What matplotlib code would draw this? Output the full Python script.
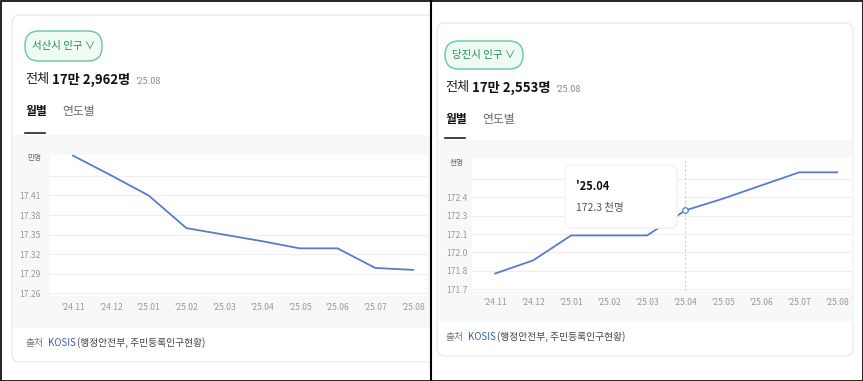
import numpy as np
import matplotlib
matplotlib.use('Agg')
import matplotlib.pyplot as plt
from matplotlib.patches import FancyBboxPatch, Rectangle

plt.rcParams['font.family'] = ['Noto Sans CJK KR', 'DejaVu Sans']

# --- datos ---
months = ["'24.11", "'24.12", "'25.01", "'25.02", "'25.03",
          "'25.04", "'25.05", "'25.06", "'25.07", "'25.08"]
seosan = [17.471, 17.441, 17.410, 17.360, 17.350, 17.340, 17.329, 17.329, 17.299, 17.296]
dangjin = [171.82, 171.92, 172.11, 172.11, 172.11, 172.30, 172.39, 172.49, 172.59, 172.59]

seosan_ticks = [17.26, 17.29, 17.32, 17.35, 17.38, 17.41, 17.44]
seosan_labels = ["17.26", "17.29", "17.32", "17.35", "17.38", "17.41", ""]
dangjin_ticks = [171.70, 171.84, 171.98, 172.12, 172.26, 172.40, 172.54]
dangjin_labels = ["171.7", "171.8", "172.0", "172.1", "172.3", "172.4", ""]

titles = ["서산시 인구", "당진시 인구"]
totals = ["17만 2,962명", "17만 2,553명"]
units = ["만명", "천명"]
tip_month = "'25.04"
tip_value = "172.3 천명"
tip_idx = 5

W, H = 863, 381
LINE = '#5b7bc9'
GREEN = '#1f8f50'

fig = plt.figure(figsize=(W / 100, H / 100), dpi=100)
fig.patch.set_facecolor('white')

# capa de fondo en pixeles
bg = fig.add_axes([0, 0, 1, 1], zorder=0)
bg.set_xlim(0, W)
bg.set_ylim(H, 0)
bg.axis('off')


def rect_px(x0, x1, y0, y1):
    return [x0 / W, 1 - y1 / H, (x1 - x0) / W, (y1 - y0) / H]


# tarjetas
cards = [dict(x0=12, x1=445, top=15, bot=362, band0=135, band1=328, pill=(25, 102, 31, 61),
              y_total=80, y_tab=112, y_line=133, x_left=25, clip=(0, 430)),
         dict(x0=437, x1=853, top=23, bot=356, band0=140, band1=322, pill=(445, 523, 41, 69),
              y_total=88, y_tab=119, y_line=138, x_left=445, clip=(431, W))]

for i, c in enumerate(cards):
    clip = Rectangle((c['clip'][0], 0), c['clip'][1] - c['clip'][0], H, transform=bg.transData)
    card = FancyBboxPatch((c['x0'], c['top']), c['x1'] - c['x0'], c['bot'] - c['top'],
                          boxstyle='round,pad=0,rounding_size=8', fc='white',
                          ec='#e6e6e6', lw=0.8)
    bg.add_patch(card)
    card.set_clip_path(clip)
    band = Rectangle((c['x0'] + 0.5, c['band0']), c['x1'] - c['x0'] - 1,
                     c['band1'] - c['band0'], fc='#f7f8fa', ec='none')
    bg.add_patch(band)
    band.set_clip_path(clip)
    px0, px1, py0, py1 = c['pill']
    bg.add_patch(FancyBboxPatch((px0, py0), px1 - px0, py1 - py0,
                                boxstyle='round,pad=0,rounding_size=14', fc='#f0faf4',
                                ec='#66c795', lw=1.0))
    bg.text((px0 + px1) / 2, (py0 + py1) / 2, titles[i] + " ∨", color=GREEN,
            fontsize=7.5, ha='center', va='center')
    xl = c['x_left']
    bg.text(xl, c['y_total'], "전체", fontsize=9.5, color='#222', va='center')
    bg.text(xl + 27, c['y_total'], totals[i], fontsize=9.5, fontweight='bold',
            color='#111', va='center')
    bg.text(xl + 110, c['y_total'] + 1, "'25.08", fontsize=6.5, color='#888', va='center')
    bg.text(xl, c['y_tab'], "월별", fontsize=8.5, fontweight='bold', color='#111', va='center')
    bg.text(xl + 37, c['y_tab'], "연도별", fontsize=8.5, color='#666', va='center')
    bg.plot([xl, xl + 20], [c['y_line'], c['y_line']], color='#222', lw=1.2)
    bg.text(xl, c['band1'] + 15, "출처", fontsize=7, color='#777', va='center')
    bg.text(xl + 23, c['band1'] + 15, "KOSIS", fontsize=7, color='#3b5fa8', va='center')
    bg.text(xl + 52, c['band1'] + 15, "(행정안전부, 주민등록인구현황)", fontsize=7,
            color='#444', va='center')

# marco negro
bg.add_patch(Rectangle((0.5, 0.5), W - 1, H - 1, fc='none', ec='black', lw=1.2))
bg.plot([430.5, 430.5], [0, H], color='black', lw=1.5)

# --- graficas ---
x = np.arange(len(months))


def style(ax, ticks, labels, ypad):
    ax.set_facecolor('white')
    for s in ax.spines.values():
        s.set_visible(False)
    ax.set_yticks(ticks)
    ax.set_yticklabels(labels)
    ax.set_xticks(x)
    ax.set_xticklabels(months)
    ax.tick_params(axis='both', length=0, labelsize=6.2, colors='#999')
    ax.tick_params(axis='x', pad=5)
    ax.tick_params(axis='y', pad=ypad)
    ax.grid(axis='y', color='#eeeeee', lw=0.8)
    ax.set_axisbelow(True)


ax1 = fig.add_axes(rect_px(50, 427, 155, 296), zorder=2)
ax1.plot(x, seosan, color=LINE, lw=1.3, clip_on=False)
ax1.set_xlim(-0.61, 9.37)
ax1.set_ylim(17.256, 17.472)
style(ax1, seosan_ticks, seosan_labels, 7)
bg.text(34, 158, units[0], fontsize=5.5, color='#666', ha='center', va='center')

ax2 = fig.add_axes(rect_px(472, 852, 158, 291), zorder=2)
ax2.plot(x, dangjin, color=LINE, lw=1.3, clip_on=False)
ax2.axvline(x[tip_idx], color='#d0d0d0', lw=0.8, ls=(0, (2, 2)))
ax2.plot(x[tip_idx], dangjin[tip_idx], marker='o', ms=4, mfc='white', mec=LINE, mew=0.9)
ax2.set_xlim(-0.61, 9.39)
ax2.set_ylim(171.687, 172.699)
style(ax2, dangjin_ticks, dangjin_labels, 3)
bg.text(457, 163, units[1], fontsize=5.5, color='#666', ha='center', va='center')

# tooltip
top = fig.add_axes([0, 0, 1, 1], zorder=5)
top.set_xlim(0, W)
top.set_ylim(H, 0)
top.axis('off')
top.patch.set_alpha(0)
top.add_patch(FancyBboxPatch((566, 166), 112, 63, boxstyle='round,pad=0,rounding_size=8',
                             fc='#f0f0f0', ec='none', alpha=0.6))
top.add_patch(FancyBboxPatch((565, 165), 112, 63, boxstyle='round,pad=0,rounding_size=8',
                             fc='white', ec='#eeeeee', lw=0.6))
top.text(576, 187, tip_month, fontsize=8, fontweight='bold', color='#111', va='center')
top.text(576, 208, tip_value, fontsize=7.5, color='#555', va='center')

fig.savefig('out.png', dpi=100)
